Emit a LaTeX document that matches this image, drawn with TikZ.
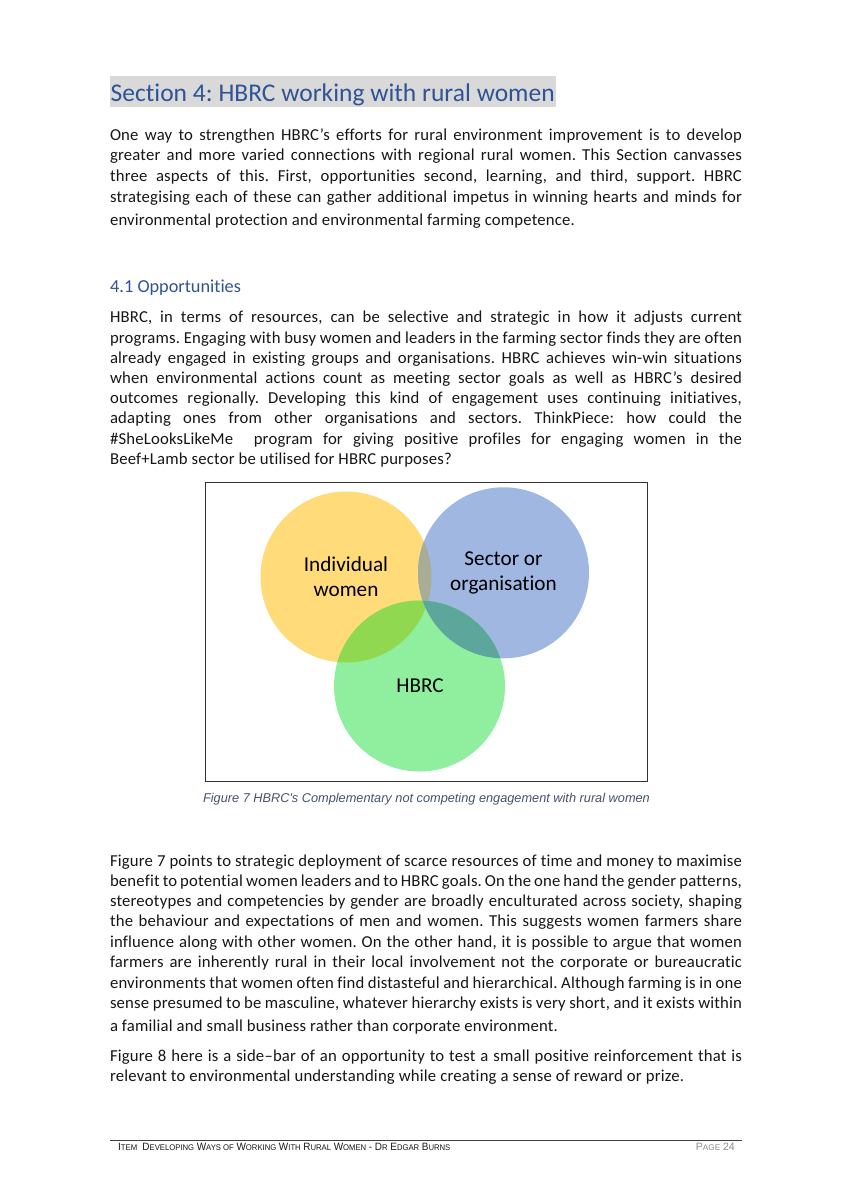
\documentclass[tikz,border=0pt]{standalone}
\usepackage{fontspec}
\setmainfont{Carlito}[Ligatures={NoCommon}]
\newfontfamily\bodyf{Carlito}[Ligatures={NoCommon},LetterSpace=1.2]
\newfontfamily\arialf{Liberation Sans}
\definecolor{headblue}{HTML}{2F5496}
\definecolor{bodyink}{HTML}{161616}
\definecolor{capblue}{HTML}{44546A}
\definecolor{cyellow}{HTML}{FFDB7A}
\definecolor{cblue}{HTML}{A0B7E2}
\definecolor{cgreen}{HTML}{90EF9F}
\definecolor{ovyb}{HTML}{A8AD96}
\definecolor{ovyg}{HTML}{90D850}
\definecolor{ovbg}{HTML}{5CA69C}
\frenchspacing
\newcommand{\bodysize}{\bodyf\fontsize{16.7}{19}\selectfont}
\newcommand{\jl}[3]{\node[bodyline] (#1) at (110,#2) {\makebox[632pt][s]{#3}};}
\newcommand{\lft}[4]{\node[bodyline] (#1) at (110,#2) {\makebox[#3pt][s]{#4}};}
\newcommand{\fb}[1]{{\fontsize{10.6}{12}\selectfont #1}}
\newcommand{\fs}[1]{{\fontsize{8.2}{12}\selectfont #1}}
\tikzset{
  bodyline/.style={anchor=base west,inner sep=0pt,outer sep=0pt,text=bodyink,font=\bodysize},
  venn/.style={font=\fontsize{21.2}{25}\selectfont,text=black,align=center,inner sep=0pt}
}
\begin{document}
\begin{tikzpicture}[x=1pt,y=-1pt]
\useasboundingbox (0,0) rectangle (844,1194);
\fill[white] (0,0) rectangle (844,1194);
% title
\fill[black!15] (110,76) rectangle (555.5,107);
\node[anchor=base west,inner sep=0pt,text=headblue,font=\fontsize{25.5}{30}\selectfont] (title) at (110.5,101) {\makebox[444pt][s]{Section 4: HBRC working with rural women}};
% para 1
\jl{a1}{140.5}{One way to strengthen HBRC’s efforts for rural environment improvement is to develop}
\jl{a2}{160.5}{greater and more varied connections with regional rural women. This Section canvasses}
\jl{a3}{181}{three aspects of this. First, opportunities second, learning, and third, support. HBRC}
\jl{a4}{202}{strategising each of these can gather additional impetus in winning hearts and minds for}
\lft{a5}{225}{465}{environmental protection and environmental farming competence.}
% heading
\node[anchor=base west,inner sep=0pt,text=headblue,font=\fontsize{18.3}{22}\selectfont] (h41) at (110,292) {4.1 Opportunities};
% para 2
\jl{b1}{322}{HBRC, in terms of resources, can be selective and strategic in how it adjusts current}
\jl{b2}{343}{programs. Engaging with busy women and leaders in the farming sector finds they are often}
\jl{b3}{363}{already engaged in existing groups and organisations. HBRC achieves win-win situations}
\jl{b4}{383}{when environmental actions count as meeting sector goals as well as HBRC’s desired}
\jl{b5}{403}{outcomes regionally. Developing this kind of engagement uses continuing initiatives,}
\jl{b6}{423}{adapting ones from other organisations and sectors. ThinkPiece: how could the}
\jl{b7}{444}{\#SheLooksLikeMe\ \ program for giving positive profiles for engaging women in the}
\lft{b8}{464}{342}{Beef+Lamb sector be utilised for HBRC purposes?}
% figure
\draw[black!80,line width=1pt] (205.5,482) rectangle (647,781);
\fill[cyellow] (346,577) circle (85.5);
\fill[cblue] (503.5,572.8) circle (85.5);
\fill[cgreen] (419.5,686) circle (85.5);
\begin{scope}\clip (346,577) circle (85.5); \fill[ovyb] (503.5,572.8) circle (85.5); \end{scope}
\begin{scope}\clip (346,577) circle (85.5); \fill[ovyg] (419.5,686) circle (85.5); \end{scope}
\begin{scope}\clip (503.5,572.8) circle (85.5); \fill[ovbg] (419.5,686) circle (85.5); \end{scope}
\node[venn] (ind) at (346,577) {Individual\\women};
\node[venn] (sec) at (503.5,573) {Sector or\\organisation};
\node[venn] (hb) at (420,685.5) {HBRC};
\node[anchor=base,inner sep=0pt,text=capblue,font=\arialf\itshape\fontsize{12.75}{15}\selectfont] (cap) at (426.5,802.5) {Figure 7 HBRC's Complementary not competing engagement with rural women};
% para 3
\jl{c1}{866}{Figure 7 points to strategic deployment of scarce resources of time and money to maximise}
\jl{c2}{886}{benefit to potential women leaders and to HBRC goals. On the one hand the gender patterns,}
\jl{c3}{906}{stereotypes and competencies by gender are broadly enculturated across society, shaping}
\jl{c4}{926.5}{the behaviour and expectations of men and women. This suggests women farmers share}
\jl{c5}{947}{influence along with other women. On the other hand, it is possible to argue that women}
\jl{c6}{967}{farmers are inherently rural in their local involvement not the corporate or bureaucratic}
\jl{c7}{988}{environments that women often find distasteful and hierarchical. Although farming is in one}
\jl{c8}{1008}{sense presumed to be masculine, whatever hierarchy exists is very short, and it exists within}
\lft{c9}{1031}{448}{a familial and small business rather than corporate environment.}
% para 4
\jl{d1}{1061}{Figure 8 here is a side–bar of an opportunity to test a small positive reinforcement that is}
\lft{d2}{1081}{574}{relevant to environmental understanding while creating a sense of reward or prize.}
% footer
\draw[black!75,line width=0.7pt] (110,1140) -- (742,1140);
\node[anchor=base west,inner sep=0pt,text=black!90,font=\arialf] (foot) at (118,1150) {\scalebox{0.94}[1]{\fb{I}\fs{TEM}\ \ \fb{D}\fs{EVELOPING} \fb{W}\fs{AYS OF} \fb{W}\fs{ORKING} \fb{W}\fs{ITH} \fb{R}\fs{URAL} \fb{W}\fs{OMEN} \fb{- D}\fs{R} \fb{E}\fs{DGAR} \fb{B}\fs{URNS}}};
\node[anchor=base east,inner sep=0pt,text=black!45,font=\arialf] (page) at (735,1150) {\fb{P}\fs{AGE} \fb{24}};
\end{tikzpicture}
\end{document}
